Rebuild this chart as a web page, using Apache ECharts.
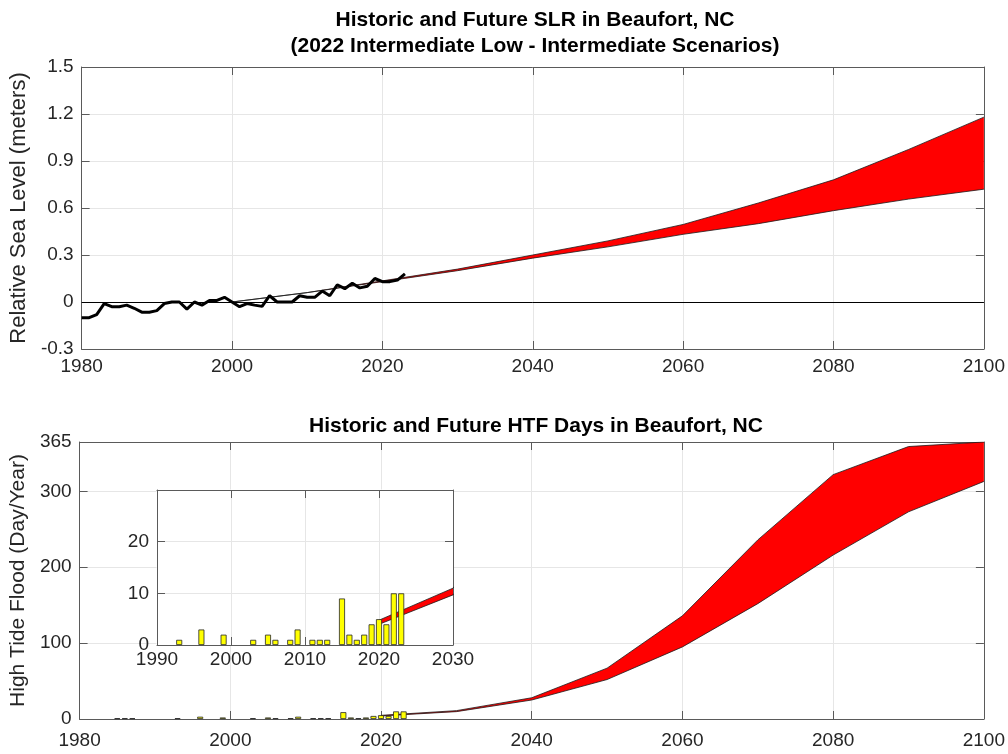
<!DOCTYPE html>
<html>
<head>
<meta charset="utf-8">
<script src="https://cdn.jsdelivr.net/npm/echarts@6/dist/echarts.min.js"></script>
<style>html,body{margin:0;padding:0;background:#fff}#c{width:1008px;height:754px}</style>
</head>
<body>
<div id="c"></div>
<script>
// ---------- data ----------
const histYears = [1980,1981,1982,1983,1984,1985,1986,1987,1988,1989,1990,1991,1992,1993,1994,1995,1996,1997,1998,1999,2000,2001,2002,2003,2004,2005,2006,2007,2008,2009,2010,2011,2012,2013,2014,2015,2016,2017,2018,2019,2020,2021,2022,2023];
const slrHist = [-0.10,-0.10,-0.08,-0.01,-0.03,-0.03,-0.02,-0.04,-0.065,-0.065,-0.055,-0.01,0.00,0.00,-0.045,0.00,-0.02,0.01,0.01,0.03,0.00,-0.03,-0.01,-0.02,-0.028,0.04,0.00,0.00,0.00,0.04,0.03,0.03,0.07,0.04,0.11,0.085,0.12,0.09,0.10,0.15,0.13,0.13,0.14,0.18];

const slrProjYears = [2000,2010,2020,2030,2040,2050,2060,2070,2080,2090,2100];
const slrHigh = [0.00,0.06,0.135,0.21,0.30,0.39,0.495,0.632,0.78,0.974,1.18];
const slrLow  = [0.00,0.06,0.13,0.20,0.28,0.352,0.432,0.50,0.583,0.657,0.72];

const htfYears = [1985,1986,1987,1993,1996,1999,2003,2005,2006,2008,2009,2011,2012,2013,2015,2016,2017,2018,2019,2020,2021,2022,2023];
const htfDays  = [1,1,1,1,3,2,1,2,1,1,3,1,1,1,9,2,1,2,4,5,4,10,10];

const htfProjYears = [2020,2030,2040,2050,2060,2070,2080,2090,2100];
const htfHigh = [4.8,11,28,67,136,236,322,359,365];
const htfLow  = [4.0,9.7,25,52,95,152,216,273,313];

// ---------- helpers ----------
const zip = (xs, ys) => xs.map((x, i) => [x, ys[i]]);
const zip3 = (xs, a, b) => xs.map((x, i) => [x, a[i], b[i]]);

const FONT = 'Liberation Sans, Arial, sans-serif';
const TXT = '#262626';
const AX = '#5a5a5a';
const GRIDC = '#e6e6e6';

function xAx(grid, min, max, interval, margin, z) {
  return [{
    type: 'value', gridIndex: grid, min, max, interval, position: 'bottom', z: z || 0,
    axisLine: {show: true, onZero: false, lineStyle: {color: AX, width: 1}},
    axisTick: {show: true, inside: true, length: 8, lineStyle: {color: AX}},
    axisLabel: {color: TXT, fontSize: 19, fontFamily: FONT, margin, formatter: v => String(v)},
    splitLine: {show: true, lineStyle: {color: GRIDC, width: 1}}
  }, {
    type: 'value', gridIndex: grid, min, max, interval, position: 'top', z: z || 0,
    axisLine: {show: true, onZero: false, lineStyle: {color: AX, width: 1}},
    axisTick: {show: true, inside: true, length: 8, lineStyle: {color: AX}},
    axisLabel: {show: false}, splitLine: {show: false}
  }];
}
function yAx(grid, min, max, interval, name, nameGap, nameSize, fmt, z, showMax) {
  return [{
    type: 'value', gridIndex: grid, min, max, interval, position: 'left', z: z || 0,
    name, nameLocation: 'middle', nameGap, nameRotate: 90,
    nameTextStyle: {color: TXT, fontSize: nameSize, fontFamily: FONT},
    axisLine: {show: true, onZero: false, lineStyle: {color: AX, width: 1}},
    axisTick: {show: true, inside: true, length: 8, lineStyle: {color: AX}},
    axisLabel: {color: TXT, fontSize: 19, fontFamily: FONT, margin: 8, formatter: fmt, showMaxLabel: showMax},
    splitLine: {show: true, lineStyle: {color: GRIDC, width: 1}}
  }, {
    type: 'value', gridIndex: grid, min, max, interval, position: 'right', z: z || 0,
    axisLine: {show: true, onZero: false, lineStyle: {color: AX, width: 1}},
    axisTick: {show: true, inside: true, length: 8, lineStyle: {color: AX}},
    axisLabel: {show: false}, splitLine: {show: false}
  }];
}

// filled band between low and high, drawn through the axis scales
function bandSeries(xi, yi, years, lo, hi, z) {
  return {
    type: 'custom', xAxisIndex: xi, yAxisIndex: yi, clip: true, z,
    data: zip3(years, lo, hi),
    encode: {x: 0, y: [1, 2]},
    renderItem: function (params, api) {
      if (params.dataIndex !== 0) return null;
      const pts = [];
      for (let i = 0; i < years.length; i++) pts.push(api.coord([years[i], lo[i]]));
      for (let i = years.length - 1; i >= 0; i--) pts.push(api.coord([years[i], hi[i]]));
      return {type: 'polygon', shape: {points: pts}, style: {fill: '#ff0000', stroke: null}};
    }
  };
}
function edgeSeries(xi, yi, years, vals, z) {
  return {type: 'line', xAxisIndex: xi, yAxisIndex: yi, symbol: 'none', clip: true, z,
    data: zip(years, vals), lineStyle: {color: '#1a1a1a', width: 0.8}};
}

const chart = echarts.init(document.getElementById('c'), null, {renderer: 'canvas'});

const titleStyle = {fontFamily: FONT, fontSize: 21, fontWeight: 'bold', color: '#000'};

const option = {
  backgroundColor: '#fff',
  animation: false,
  title: [
    {text: 'Historic and Future SLR in Beaufort, NC', left: 530, top: 5, textAlign: 'center', textStyle: titleStyle},
    {text: '(2022 Intermediate Low - Intermediate Scenarios)', left: 530, top: 31, textAlign: 'center', textStyle: titleStyle},
    {text: 'Historic and Future HTF Days in Beaufort, NC', left: 531, top: 411, textAlign: 'center', textStyle: titleStyle}
  ],
  grid: [
    {left: 77, right: 24, top: 67, height: 282},
    {left: 79, right: 24, top: 442, height: 277},
    {left: 157, top: 490, width: 296, height: 155, show: true, backgroundColor: '#fff', borderColor: '#fff', z: 8}
  ],
  xAxis: [
    ...xAx(0, 1980, 2100, 20, 8),
    ...xAx(1, 1980, 2100, 20, 12),
    ...xAx(2, 1990, 2030, 10, 5, 10)
  ],
  yAxis: [
    ...yAx(0, -0.3, 1.5, 0.3, 'Relative Sea Level (meters)', 46, 22, v => String(+v.toFixed(1)), 0, true),
    ...yAx(1, 0, 365, 100, 'High Tide Flood (Day/Year)', 47, 21, v => String(Math.round(v)), 0, true),
    ...yAx(2, 0, 30, 10, '', 0, 19, v => String(v), 10, false)
  ],
  series: [
    // top
    bandSeries(0, 0, slrProjYears, slrLow, slrHigh, 2),
    edgeSeries(0, 0, slrProjYears, slrLow, 3),
    edgeSeries(0, 0, slrProjYears, slrHigh, 3),
    {type: 'line', xAxisIndex: 0, yAxisIndex: 0, symbol: 'none',
     data: zip(histYears, slrHist), lineStyle: {color: '#000', width: 3}, z: 4,
     markLine: {silent: true, symbol: 'none', label: {show: false},
       lineStyle: {color: '#000', width: 1, type: 'solid'}, data: [{yAxis: 0}]}},
    // bottom
    bandSeries(2, 2, htfProjYears, htfLow, htfHigh, 2),
    edgeSeries(2, 2, htfProjYears, htfLow, 3),
    edgeSeries(2, 2, htfProjYears, htfHigh, 3),
    {type: 'bar', xAxisIndex: 2, yAxisIndex: 2, barWidth: 6,
     data: zip(htfYears, htfDays),
     itemStyle: {color: '#ffff00', borderColor: '#262626', borderWidth: 0.8}, z: 4},
    // inset
    bandSeries(4, 4, htfProjYears, htfLow, htfHigh, 12),
    edgeSeries(4, 4, htfProjYears, htfLow, 13),
    edgeSeries(4, 4, htfProjYears, htfHigh, 13),
    {type: 'bar', xAxisIndex: 4, yAxisIndex: 4, barWidth: 6,
     data: zip(htfYears, htfDays),
     itemStyle: {color: '#ffff00', borderColor: '#262626', borderWidth: 0.8}, z: 14}
  ]
};
chart.setOption(option);
</script>
</body>
</html>
